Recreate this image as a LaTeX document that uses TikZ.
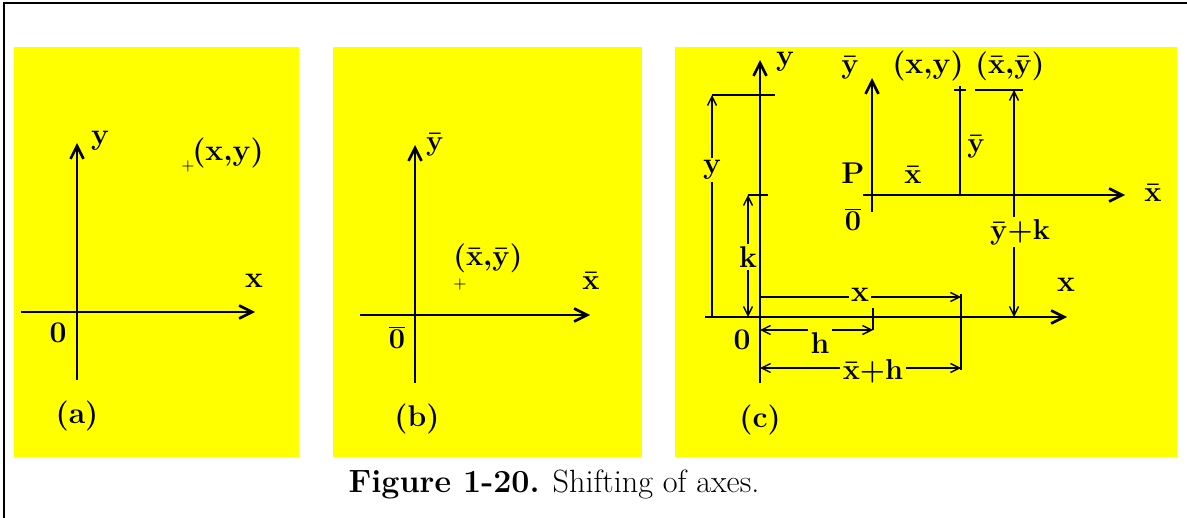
\documentclass[tikz,border=0pt]{standalone}
\usetikzlibrary{arrows.meta}
\definecolor{panelyel}{RGB}{255,255,0}
\newcommand{\bx}{\bar{\mathbf{x}}}
\newcommand{\by}{\bar{\mathbf{y}}}
\newcommand{\bm}[1]{{\boldmath$#1$}}
\tikzset{
  panel/.style={fill=panelyel},
  axis/.style={line width=1.3pt,-{Straight Barb[length=6.5pt,width=6.5pt]}},
  dim/.style={line width=.7pt},
  dimarr/.style={dim,-{Straight Barb[length=4.5pt,width=4.5pt]}},
  lbl/.style={font=\fontsize{15}{18}\selectfont\bfseries,inner sep=1pt},
  cross/.style={font=\fontsize{8}{9}\selectfont,inner sep=0pt}
}
\begin{document}
\begin{tikzpicture}[x=.5pt,y=-.5pt]
\useasboundingbox (0,0) rectangle (1187,518);
\draw[line width=1pt] (4,518) -- (4,3) -- (1187,3);
% panel (a)
\fill[panel] (14,47) rectangle (299,457);
\coordinate (ya0) at (77,380); \coordinate (ya1) at (77,143);
\coordinate (xa0) at (21,312); \coordinate (xa1) at (255,312);
\draw[axis] (ya0) -- (ya1); \draw[axis] (xa0) -- (xa1);
\node[lbl] (ya) at (100,141) {y}; \node[lbl] (xa) at (254,281) {x};
\node[lbl] (oa) at (58,333) {0};
\node[cross] (pa) at (188,167) {+}; \node[lbl] (pta) at (228,153) {(x,y)};
\node[lbl] (capa) at (77,416) {(a)};
% panel (b)
\fill[panel] (333,47) rectangle (642,457);
\coordinate (yb0) at (415,383); \coordinate (yb1) at (415,145);
\coordinate (xb0) at (360,315); \coordinate (xb1) at (590,315);
\draw[axis] (yb0) -- (yb1); \draw[axis] (xb0) -- (xb1);
\node[lbl] (yb) at (435,145) {\bm{\by}}; \node[lbl] (xb) at (591,281) {\bm{\bx}};
\node[lbl] (ob) at (397,337) {\bm{\overline{\mathbf{0}}}};
\node[cross] (pb) at (460,284) {+}; \node[lbl] (ptb) at (488,258) {\bm{(\bx{,}\by)}};
\node[lbl] (capb) at (417,419) {(b)};
% panel (c)
\fill[panel] (675,47) rectangle (1177,457);
\coordinate (yc0) at (760,383); \coordinate (yc1) at (760,60);
\coordinate (xc0) at (705,317); \coordinate (xc1) at (1067,317);
\draw[axis] (yc0) -- (yc1); \draw[axis] (xc0) -- (xc1);
\node[lbl] (yc) at (785,62) {y}; \node[lbl] (xc) at (1066,285) {x};
\node[lbl] (oc) at (742,340) {0};
\coordinate (ybc0) at (872,212); \coordinate (ybc1) at (872,78);
\coordinate (xbc0) at (863,195); \coordinate (xbc1) at (1125,195);
\draw[axis] (ybc0) -- (ybc1); \draw[axis] (xbc0) -- (xbc1);
\node[lbl] (ybc) at (850,68) {\bm{\by}}; \node[lbl] (xbc) at (1153,193) {\bm{\bx}};
\node[lbl] (P) at (853,173) {P}; \node[lbl] (obc) at (853,219) {\bm{\overline{\mathbf{0}}}};
% distance y
\coordinate (yT) at (712,95); \coordinate (yTr) at (775,95); \coordinate (yB) at (712,317);
\node[lbl] (yd) at (712,170) {y};
\draw[dim] (yT) -- (yTr); \draw[dimarr] (yd) -- (yT); \draw[dim] (yd) -- (yB);
% distance k
\coordinate (kT) at (748,195); \coordinate (kTr) at (768,195); \coordinate (kB) at (748,317);
\node[lbl] (kd) at (748,257) {k};
\draw[dim] (kT) -- (kTr); \draw[dimarr] (kd) -- (kT); \draw[dimarr] (kd) -- (kB);
% the point
\coordinate (Q0) at (960,195); \coordinate (Q1) at (960,86);
\draw[dim] (Q0) -- (Q1); \draw[dim] (954,90) -- (966,90);
\node[lbl] (ybd) at (976,147) {\bm{\by}}; \node[lbl] (xbd) at (913,175) {\bm{\bx}};
\node[lbl] (ptc) at (928,66) {(x,y)}; \node[lbl] (ptbc) at (1010,66) {\bm{(\bx{,}\by)}};
% distance ybar+k
\coordinate (ykT) at (1014,90); \coordinate (ykB) at (1014,317);
\draw[dim] (975,90) -- (1023,90);
\node[lbl] (ykd) at (1020,232) {\bm{\by{+}\mathbf{k}}};
\draw[dimarr] (ykd.north -| ykT) -- (ykT); \draw[dimarr] (ykd.south -| ykB) -- (ykB);
% distance x
\coordinate (xL) at (760,297); \coordinate (xR) at (961,297);
\node[lbl] (xd) at (860,295) {x};
\draw[dim] (xL) -- (xd.west |- xL); \draw[dimarr] (xd.east |- xR) -- (xR);
\draw[dim] (961,294) -- (961,370);
% distance h
\coordinate (hL) at (760,330); \coordinate (hR) at (873,330);
\draw[dim] (873,308) -- (hR);
\node[lbl] (hd) at (820,343) {h};
\draw[dimarr] (hd.north west |- hL) -- (hL); \draw[dimarr] (hd.north east |- hR) -- (hR);
% distance xbar+h
\coordinate (xhL) at (760,368); \coordinate (xhR) at (961,368);
\node[lbl] (xhd) at (873,371) {\bm{\bx{+}\mathbf{h}}};
\draw[dimarr] (xhd.west |- xhL) -- (xhL); \draw[dimarr] (xhd.east |- xhR) -- (xhR);
\node[lbl] (capc) at (760,420) {(c)};
% caption
\node[font=\fontsize{16.1}{19}\selectfont] (cap) at (554,484) {\textbf{Figure 1-20.} Shifting of axes.};
\end{tikzpicture}
\end{document}
